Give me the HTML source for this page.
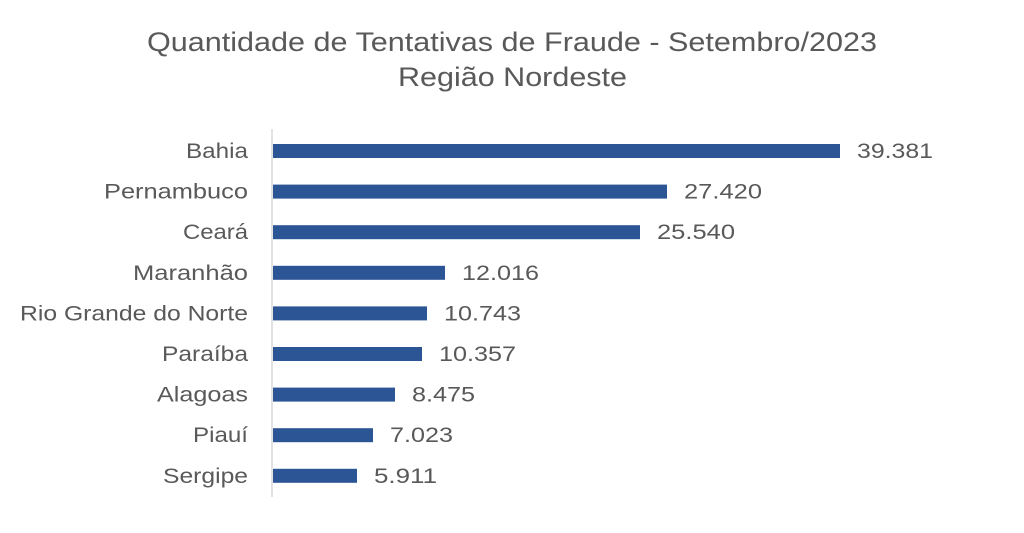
<!DOCTYPE html>
<html><head><style>
body{margin:0;width:1024px;height:528px;background:#fff;overflow:hidden}
svg text{font-family:"Liberation Sans",sans-serif;fill:#595959}
</style></head><body>
<svg width="1024" height="528" viewBox="0 0 1024 528">
<text x="147" y="51" font-size="27" textLength="730" lengthAdjust="spacingAndGlyphs">Quantidade de Tentativas de Fraude - Setembro/2023</text>
<text x="398" y="86" font-size="27" textLength="229" lengthAdjust="spacingAndGlyphs">Região Nordeste</text>
<line x1="272" y1="129" x2="272" y2="497" stroke="#d9d9d9" stroke-width="1.5"/>
<g fill="#2B5595">
<rect x="273" y="144" width="567" height="14"/>
<rect x="273" y="184.6" width="394" height="14"/>
<rect x="273" y="225.2" width="367" height="14"/>
<rect x="273" y="265.8" width="172" height="14"/>
<rect x="273" y="306.4" width="154" height="14"/>
<rect x="273" y="347" width="149" height="14"/>
<rect x="273" y="387.6" width="122" height="14"/>
<rect x="273" y="428.2" width="100" height="14"/>
<rect x="273" y="468.8" width="84" height="14"/>
</g>
<g font-size="21">
<text x="186" y="158" textLength="62" lengthAdjust="spacingAndGlyphs">Bahia</text>
<text x="104" y="198.6" textLength="144" lengthAdjust="spacingAndGlyphs">Pernambuco</text>
<text x="183" y="239.2" textLength="65" lengthAdjust="spacingAndGlyphs">Ceará</text>
<text x="133" y="279.8" textLength="115" lengthAdjust="spacingAndGlyphs">Maranhão</text>
<text x="20" y="320.4" textLength="228" lengthAdjust="spacingAndGlyphs">Rio Grande do Norte</text>
<text x="162" y="361" textLength="86" lengthAdjust="spacingAndGlyphs">Paraíba</text>
<text x="157" y="401.6" textLength="91" lengthAdjust="spacingAndGlyphs">Alagoas</text>
<text x="193" y="442.2" textLength="55" lengthAdjust="spacingAndGlyphs">Piauí</text>
<text x="163" y="482.8" textLength="85" lengthAdjust="spacingAndGlyphs">Sergipe</text>
</g>
<g font-size="21">
<text x="857" y="158" textLength="76" lengthAdjust="spacingAndGlyphs">39.381</text>
<text x="684" y="198.6" textLength="78" lengthAdjust="spacingAndGlyphs">27.420</text>
<text x="657" y="239.2" textLength="78" lengthAdjust="spacingAndGlyphs">25.540</text>
<text x="462" y="279.8" textLength="77" lengthAdjust="spacingAndGlyphs">12.016</text>
<text x="444" y="320.4" textLength="77" lengthAdjust="spacingAndGlyphs">10.743</text>
<text x="439" y="361" textLength="77" lengthAdjust="spacingAndGlyphs">10.357</text>
<text x="412" y="401.6" textLength="63" lengthAdjust="spacingAndGlyphs">8.475</text>
<text x="390" y="442.2" textLength="63" lengthAdjust="spacingAndGlyphs">7.023</text>
<text x="374" y="482.8" textLength="63" lengthAdjust="spacingAndGlyphs">5.911</text>
</g>
</svg>
</body></html>
